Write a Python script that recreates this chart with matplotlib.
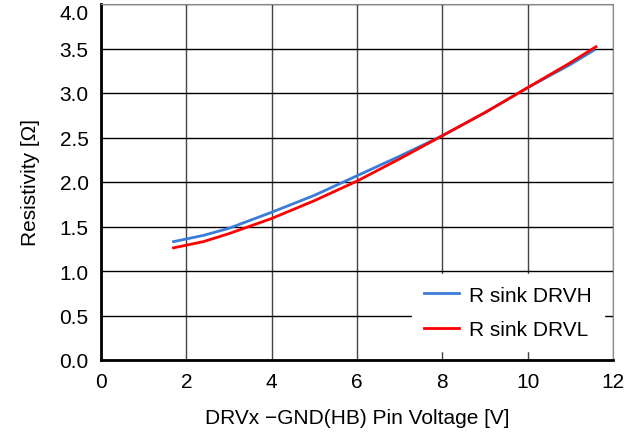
import numpy as np
import matplotlib
matplotlib.use("Agg")
import matplotlib.pyplot as plt

plt.rcParams['font.family'] = ['Liberation Sans', 'DejaVu Sans']

# curve readings
v_drvh = [1.7, 2.0, 2.4, 3.0, 4.0, 5.0, 6.0, 7.0, 8.0, 9.0, 10.0, 11.0, 11.55]
r_drvh = [1.33, 1.36, 1.40, 1.48, 1.66, 1.85, 2.07, 2.29, 2.52, 2.78, 3.06, 3.32, 3.48]
v_drvl = [1.7, 2.0, 2.4, 3.0, 4.0, 5.0, 6.0, 7.0, 8.0, 9.0, 10.0, 11.0, 11.6]
r_drvl = [1.26, 1.29, 1.33, 1.42, 1.59, 1.79, 2.01, 2.26, 2.52, 2.78, 3.06, 3.34, 3.52]

fig = plt.figure(figsize=(6.35, 4.35), dpi=100)
ax = fig.add_axes([101/635, 1 - 361/435, 512/635, 356/435])

ax.plot(v_drvh, r_drvh, color='#3a7dd6', lw=2, label='R sink DRVH')
ax.plot(v_drvl, r_drvl, color='#ff0000', lw=2, label='R sink DRVL')

ax.set_xlim(0, 12)
ax.set_ylim(0, 4)
ax.set_xticks(np.arange(0, 13, 2))
ax.set_yticks(np.arange(0, 4.01, 0.5))
ax.set_yticklabels(['%.1f' % v for v in np.arange(0, 4.01, 0.5)])
ax.grid(True, axis='y', color='black', lw=1)
ax.grid(True, axis='x', color='#444444', lw=1)
ax.set_axisbelow(True)
ax.tick_params(length=0, labelsize=15, pad=9)
# keep the top label inside the figure
ax.get_yticklabels()[-1].set_va('top')

ax.spines['left'].set_linewidth(2)
ax.spines['bottom'].set_linewidth(2)
ax.spines['top'].set_color('#888888')
ax.spines['right'].set_color('#888888')

ax.set_xlabel('DRVx \u2212GND(HB) Pin Voltage [V]', fontsize=15, labelpad=12)
ax.set_ylabel('Resistivity [\u03a9]', fontsize=15, labelpad=14)

leg = ax.legend(loc='lower right', fontsize=15, frameon=True, fancybox=False,
                edgecolor='white', framealpha=1, handlelength=1.7,
                handletextpad=0.5, borderaxespad=0.45, borderpad=0.55,
                labelspacing=0.75)

fig.savefig('out.png', dpi=100)
